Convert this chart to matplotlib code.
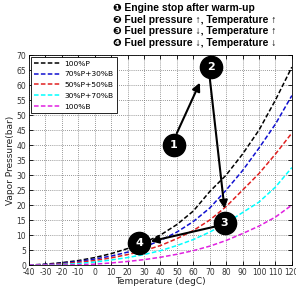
import matplotlib
matplotlib.use('Agg')
import matplotlib.pyplot as plt

plt.rcParams['axes.unicode_minus'] = False

# temperature grid (degC) and vapor pressure (bar)
temps = [-40, -30, -20, -10, 0, 10, 20, 30, 40, 50, 60, 70, 80, 90, 100, 110, 120]
p100 = [0, 0.3, 0.8, 1.5, 2.5, 3.8, 5.5, 7.5, 10, 13.5, 18, 24.5, 30, 37, 45, 55, 66]
p70b30 = [0, 0.2, 0.6, 1.2, 2.0, 3.0, 4.3, 6.0, 8.2, 11, 14.5, 19, 25, 31.5, 39, 47, 56.5]
p50b50 = [0, 0.1, 0.4, 0.9, 1.5, 2.4, 3.5, 4.8, 6.5, 8.8, 11.5, 15, 19.5, 25, 30.5, 37, 44]
p30b70 = [0, 0, 0.2, 0.5, 1.0, 1.7, 2.5, 3.5, 4.8, 6.5, 8.5, 11, 14, 17.5, 21, 26, 32.5]
b100 = [0, 0, 0, 0.1, 0.3, 0.7, 1.2, 1.8, 2.6, 3.6, 4.8, 6.3, 8.2, 10.5, 13, 16, 20]

series = [p100, p70b30, p50b50, p30b70, b100]
labels = ['100%P', '70%P+30%B', '50%P+50%B', '30%P+70%B', '100%B']
colors = ['black', '#1010d0', '#e02020', 'cyan', '#e020e0']

# numbered states and arrows (temperature, pressure)
state_nums = ['1', '2', '3', '4']
state_t = [48, 71, 79, 27]
state_p = [40, 66, 14, 7.2]
arrow_from = [(50, 44), (70, 62.5), (73, 12.8)]
arrow_to = [(64, 60.8), (79, 18.8), (34, 7.9)]

notes = ['\u2776 Engine stop after warm-up',
         '\u2777 Fuel pressure \u2191, Temperature \u2191',
         '\u2778 Fuel pressure \u2193, Temperature \u2191',
         '\u2779 Fuel pressure \u2193, Temperature \u2193']

fig = plt.figure(figsize=(2.96, 2.90), dpi=100)
ax = fig.add_axes([0.098, 0.086, 0.888, 0.724])

for vals, lab, col in zip(series, labels, colors):
    ax.plot(temps, vals, color=col, linestyle=(0, (3, 1.5)), linewidth=1.1, label=lab)

ax.set_xlim(-40, 120)
ax.set_ylim(0, 70)
ax.set_xticks(range(-40, 121, 10))
ax.set_yticks(range(0, 71, 5))
ax.tick_params(direction='in', top=True, right=True, labelsize=5.5, length=3,
               width=0.6, pad=2, labelcolor='#333333')
ax.grid(True, linestyle=(0, (1, 1.5)), color='#777777', linewidth=0.6)
for s in ax.spines.values():
    s.set_linewidth(0.6)
ax.set_xlabel('Temperature (degC)', fontsize=6.5, labelpad=0, color='#222222')
ax.set_ylabel('Vapor Pressure(bar)', fontsize=6.5, labelpad=1, color='#222222')

leg = ax.legend(loc='upper left', fontsize=5.4, handlelength=3.6, handletextpad=0.4,
                labelspacing=0.6, borderaxespad=0.25, fancybox=False,
                framealpha=1, borderpad=0.45)
leg.get_frame().set_edgecolor('black')
leg.get_frame().set_linewidth(0.6)

for (x0, y0), (x1, y1) in zip(arrow_from, arrow_to):
    ax.annotate('', xy=(x1, y1), xytext=(x0, y0),
                arrowprops=dict(arrowstyle='-|>', color='black', lw=1.5,
                                mutation_scale=12, shrinkA=0, shrinkB=0))

for num, t, p in zip(state_nums, state_t, state_p):
    ax.plot(t, p, 'o', markersize=16, color='black', zorder=5, clip_on=False)
    ax.text(t, p, num, color='white', fontsize=8, fontweight='bold',
            ha='center', va='center', zorder=6)

for i, line in enumerate(notes):
    fig.text(0.382, 0.972 - i * 0.04, line, fontsize=7.4, fontweight='bold',
             family=['Liberation Sans', 'DejaVu Sans'], va='center', ha='left')

fig.savefig('out.png', dpi=100)
